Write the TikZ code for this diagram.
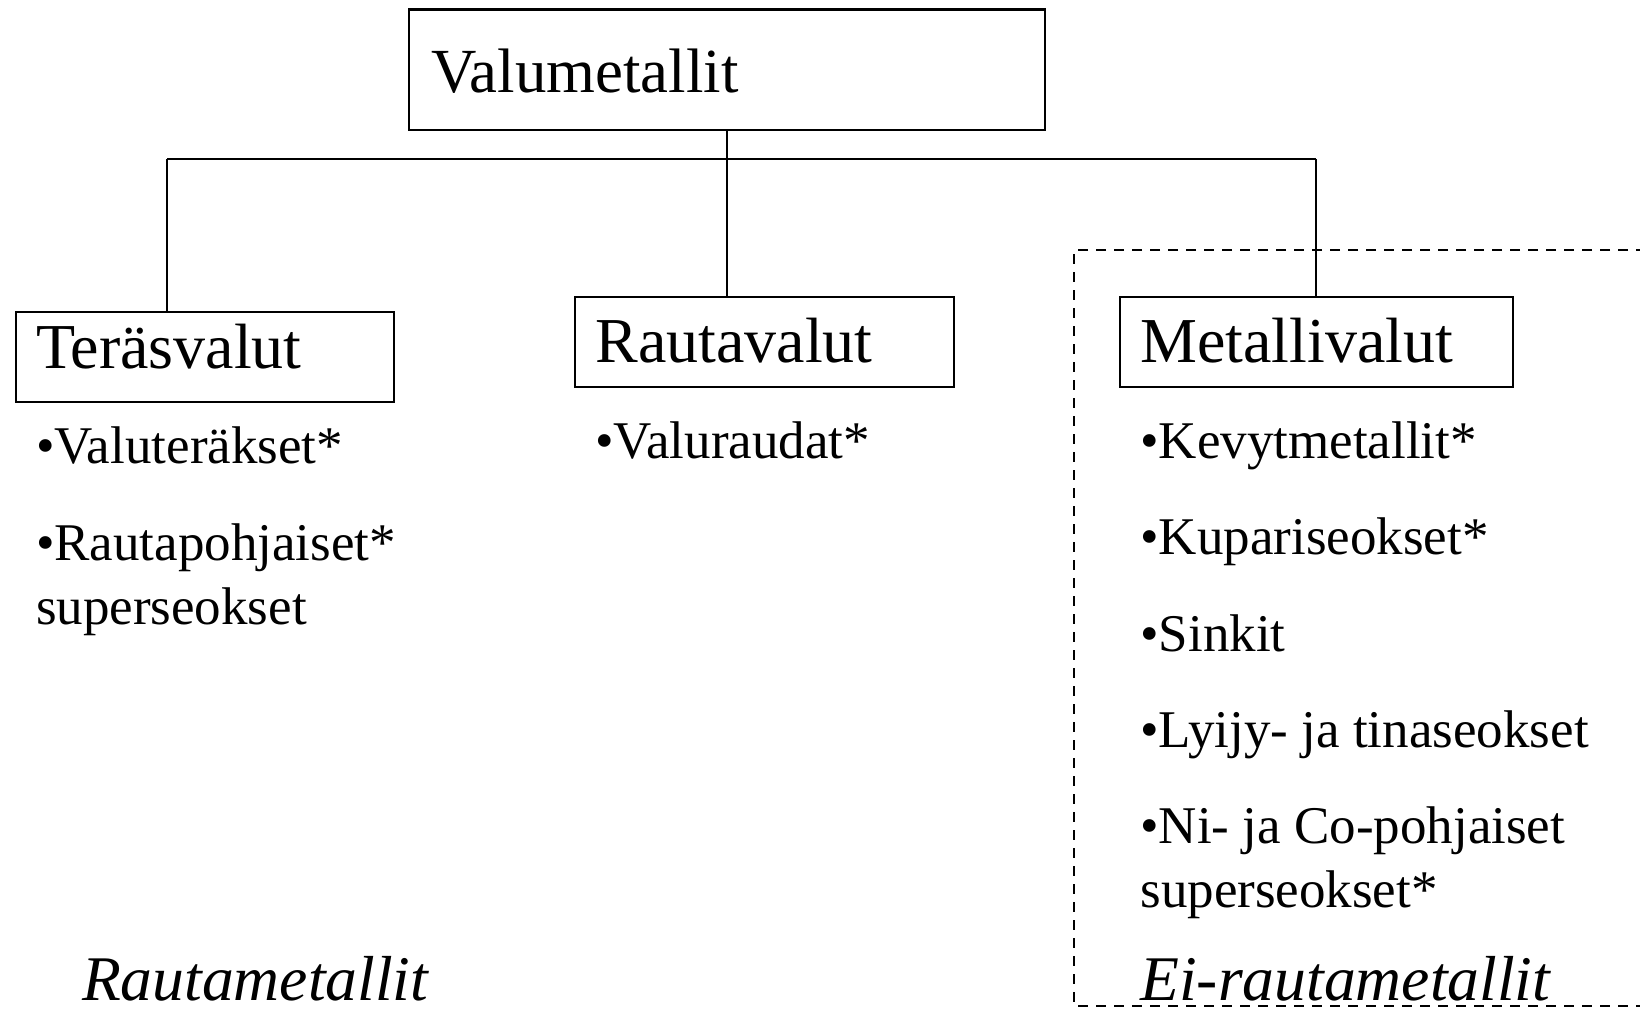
\documentclass[tikz,border=0pt]{standalone}
\usepackage{fontspec}
\setmainfont{Liberation Serif}
\begin{document}
\begin{tikzpicture}[x=0.5pt,y=-0.5pt,
  box/.style={draw, line width=1.2pt, anchor=north west, inner sep=0pt},
  conn/.style={line width=1pt},
  dashbox/.style={line width=1pt, dash pattern=on 5pt off 4pt},
  lbl/.style={anchor=base west, inner sep=0pt},
  toplbl/.style={lbl, font=\fontsize{31.4}{37}\selectfont},
  boxlbl/.style={lbl, font=\fontsize{32}{38}\selectfont},
  item/.style={lbl, font=\fontsize{26.5}{31}\selectfont},
  grp/.style={lbl, font=\fontsize{31.8}{37}\selectfont\itshape}]
\useasboundingbox (0,0) rectangle (1640,1008);
% dashed group frame
\coordinate (dTR) at (1700,250);
\coordinate (dTL) at (1074,250);
\coordinate (dBL) at (1074,1006);
\coordinate (dBR) at (1700,1006);
\draw[dashbox] (dTR) -- (dTL) -- (dBL) -- (dBR);
% boxes
\node[box, minimum width=318pt, minimum height=60.1pt] (top) at (408,8.4) {};
\node[box, minimum width=189.2pt, minimum height=45pt] (ter) at (14.6,310.6) {};
\node[box, minimum width=189.5pt, minimum height=45pt] (rau) at (574,296) {};
\node[box, minimum width=196.5pt, minimum height=45pt] (met) at (1119,296) {};
% labels
\node[toplbl] (topl) at (431,92) {Valumetallit};
\node[boxlbl] (terl) at (35.6,368) {Teräsvalut};
\node[boxlbl] (raul) at (595,362) {Rautavalut};
\node[boxlbl] (metl) at (1140,362) {Metallivalut};
% connectors
\coordinate (busL) at (167,159);
\coordinate (busR) at (1316,159);
\draw[conn] (top.south) -- (top.south |- busL);
\draw[conn] (busL) -- (busR);
\draw[conn] (busL) -- (busL |- ter.north);
\draw[conn] (top.south |- busL) -- (top.south |- rau.north);
\draw[conn] (busR) -- (busR |- met.north);
% items
\node[item] (i1) at (35.6,463) {•Valuteräkset*};
\node[item] (i2) at (35.6,560) {•Rautapohjaiset*};
\node[item] (i2b) at (35.6,624) {superseokset};
\node[item] (i3) at (595,458) {•Valuraudat*};
\node[item] (i4) at (1140,458) {•Kevytmetallit*};
\node[item] (i5) at (1140,554) {•Kupariseokset*};
\node[item] (i6) at (1140,651) {•Sinkit};
\node[item] (i7) at (1140,747) {•Lyijy- ja tinaseokset};
\node[item] (i8) at (1140,843) {•Ni- ja Co-pohjaiset};
\node[item] (i8b) at (1140,907) {superseokset*};
% group labels
\node[grp] (g1) at (81.6,1000) {Rautametallit};
\node[grp] (g2) at (1140,1000) {Ei-rautametallit};
\end{tikzpicture}
\end{document}
